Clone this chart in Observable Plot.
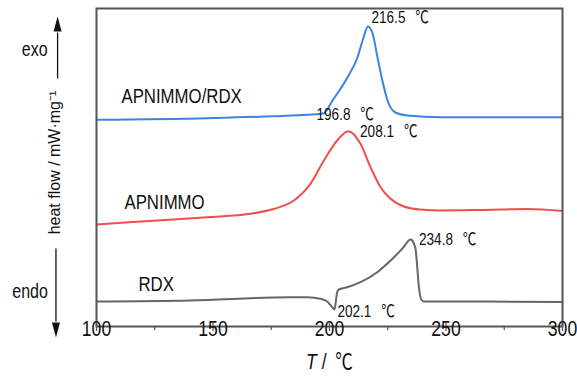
<!DOCTYPE html>
<html>
<head>
<meta charset="utf-8">
<script src="https://cdn.jsdelivr.net/npm/d3@7"></script>
<script src="https://cdn.jsdelivr.net/npm/@observablehq/plot@0.6"></script>
<style>
  html, body { margin: 0; padding: 0; background: #fff; }
</style>
</head>
<body>
<div id="chart"></div>
<script>
// ---- data (temperature in °C, heat flow offset in arbitrary units) ----
const seriesNames = ["APNIMMO/RDX", "APNIMMO", "RDX"];
const seriesColors = ["#3b82e6", "#f04e4e", "#666666"];

const blueT = [100, 147.6, 176, 197.4, 201.3, 207.7, 212.0, 214.6, 216.5, 218.5, 220.6, 222.7, 224.9, 228.3, 233.5, 247.6, 270, 300];
const blueV = [206.7, 208.3, 210.3, 213, 226, 249, 269, 289, 300, 293, 269, 246, 226, 214, 211, 209.3, 209.3, 209.3];

const redT = [100, 126, 147.5, 166, 176, 184.7, 191.8, 197.6, 203.3, 208.1, 213.3, 217.6, 221.9, 226.2, 231.9, 239, 247.6, 264.8, 285, 300];
const redV = [102, 106, 109.3, 112.7, 117.5, 126, 142.7, 166, 186, 195.3, 182.7, 159.3, 139.3, 127.7, 120, 117, 116, 116.5, 117.5, 115.5];

const grayT = [100, 140, 183, 190.6, 196.1, 199, 201.2, 202.1, 203.3, 204, 207.6, 213.3, 220.5, 226.2, 231.8, 234, 234.8, 235.5, 236.9, 237.6, 238.3, 239.4, 240.5, 260, 300];
const grayV = [25, 26, 29.3, 29.3, 27.7, 25, 19.3, 17, 34.3, 37, 39.3, 44.3, 54.3, 66, 79.3, 86, 87, 86, 78, 61, 41, 27, 25, 25, 24.5];

// series name labels
const nameT = [110.7, 112, 118];
const nameV = [224, 118, 35.5];

// peak / onset annotations
const annText = ["216.5 ℃", "196.8 ℃", "208.1 ℃", "234.8 ℃", "202.1 ℃"];
const annT = [218, 194.4, 213.1, 238.4, 203.4];
const annV = [304, 207, 190, 81.3, 9.7];

// x ticks
const majorTicks = [100, 150, 200, 250, 300];
const minorTicks = [125, 175, 225, 275];

// exo / endo indicators
const dirText = ["exo", "endo"];
const dirTextT = [73.5, 71.5];
const dirTextV = [271, 29];
const dirArrowT = [83.3, 82.6];
const dirArrowFrom = [248, 78];
const dirArrowTo = [294, 5];
const dirHeadV = [302, -3];
const dirHeadRot = [0, 180];

const xDomain = [100, 300];
const yDomain = [0, 318];

// ---- build tables ----
const curves = [
  ...blueT.map((t, i) => ({T: t, v: blueV[i], s: seriesNames[0]})),
  ...redT.map((t, i) => ({T: t, v: redV[i], s: seriesNames[1]})),
  ...grayT.map((t, i) => ({T: t, v: grayV[i], s: seriesNames[2]}))
];
const names = seriesNames.map((n, i) => ({n, T: nameT[i], v: nameV[i]}));
const anns = annText.map((a, i) => ({a, T: annT[i], v: annV[i]}));
const dirs = dirText.map((d, i) => ({d, tT: dirTextT[i], tV: dirTextV[i], aT: dirArrowT[i], from: dirArrowFrom[i], to: dirArrowTo[i], head: dirHeadV[i], rot: dirHeadRot[i]}));

const narrowTriangle = {
  draw(context) {
    context.moveTo(0, -8);
    context.lineTo(4, 7);
    context.lineTo(-4, 7);
    context.closePath();
  }
};

const font = "'Liberation Sans', Arial, 'Noto Sans CJK SC', sans-serif";

const chart = Plot.plot({
  width: 577,
  height: 381,
  marginLeft: 96,
  marginRight: 15,
  marginTop: 8,
  marginBottom: 55,
  style: {fontFamily: font, color: "#111", background: "#fff", overflow: "visible"},
  x: {domain: xDomain},
  y: {domain: yDomain, axis: null},
  color: {domain: seriesNames, range: seriesColors},
  marks: [
    Plot.line(curves, {x: "T", y: "v", z: "s", stroke: "s", strokeWidth: 2, curve: "monotone-x"}),
    Plot.frame({stroke: "#555", strokeWidth: 2}),
    Plot.axisX({ticks: majorTicks, tickSize: 5, tickPadding: 4, fontSize: 22, label: null, stroke: "#555", strokeWidth: 1.2}),
    Plot.axisX({ticks: minorTicks, tickSize: 4, tickFormat: () => "", label: null, stroke: "#555", strokeWidth: 1.2}),
    Plot.ruleX(majorTicks, {x: d => d, y1: yDomain[0], y2: yDomain[0] + 4, stroke: "#555", strokeWidth: 1.2}),
    Plot.text(names, {x: "T", y: "v", text: "n", textAnchor: "start", fontSize: 21, fill: "#111"}),
    Plot.text(anns, {x: "T", y: "v", text: "a", textAnchor: "start", fontSize: 17, fill: "#111"}),
    Plot.text(["T / ℃"], {frameAnchor: "bottom", dy: 42, fontSize: 22, fill: "#111"}),
    Plot.text(["heat flow / mW·mg⁻¹"], {frameAnchor: "left", textAnchor: "middle", dx: -42, dy: -5, rotate: -90, fontSize: 16, fill: "#111"}),
    Plot.text(dirs, {x: "tT", y: "tV", text: "d", fontSize: 20, fill: "#111"}),
    Plot.link(dirs, {x1: "aT", x2: "aT", y1: "from", y2: "to", stroke: "#111", strokeWidth: 1.3}),
    Plot.dot(dirs, {x: "aT", y: "head", symbol: narrowTriangle, fill: "#111", stroke: "none", rotate: "rot", r: 5})
  ]
});

// horizontally condense the horizontal texts; render ℃ with the CJK glyph; italic T
const ns = "http://www.w3.org/2000/svg";
chart.querySelectorAll("text").forEach(t => {
  const tr = t.getAttribute("transform") || "";
  if (tr.includes("rotate")) return;
  const x = +t.getAttribute("x") || 0, y = +t.getAttribute("y") || 0;
  t.removeAttribute("x"); t.removeAttribute("y");
  t.setAttribute("transform", `${tr} translate(${x},${y}) scale(0.8,1)`);
  const s = t.textContent;
  if (s.includes("℃")) {
    while (t.firstChild) t.removeChild(t.firstChild);
    const head = s.split("℃")[0];
    const isTitle = head.startsWith("T ");
    if (isTitle) {
      const a = document.createElementNS(ns, "tspan");
      a.setAttribute("font-style", "italic");
      a.textContent = "T";
      t.appendChild(a);
      t.appendChild(document.createTextNode(head.slice(1)));
    } else {
      t.appendChild(document.createTextNode(head));
    }
    const c = document.createElementNS(ns, "tspan");
    c.setAttribute("font-family", "'Noto Sans CJK SC', sans-serif");
    c.textContent = (isTitle ? "\u00a0" : "\u00a0\u00a0") + "℃";
    t.appendChild(c);
  }
});

document.getElementById("chart").appendChild(chart);
</script>
</body>
</html>
